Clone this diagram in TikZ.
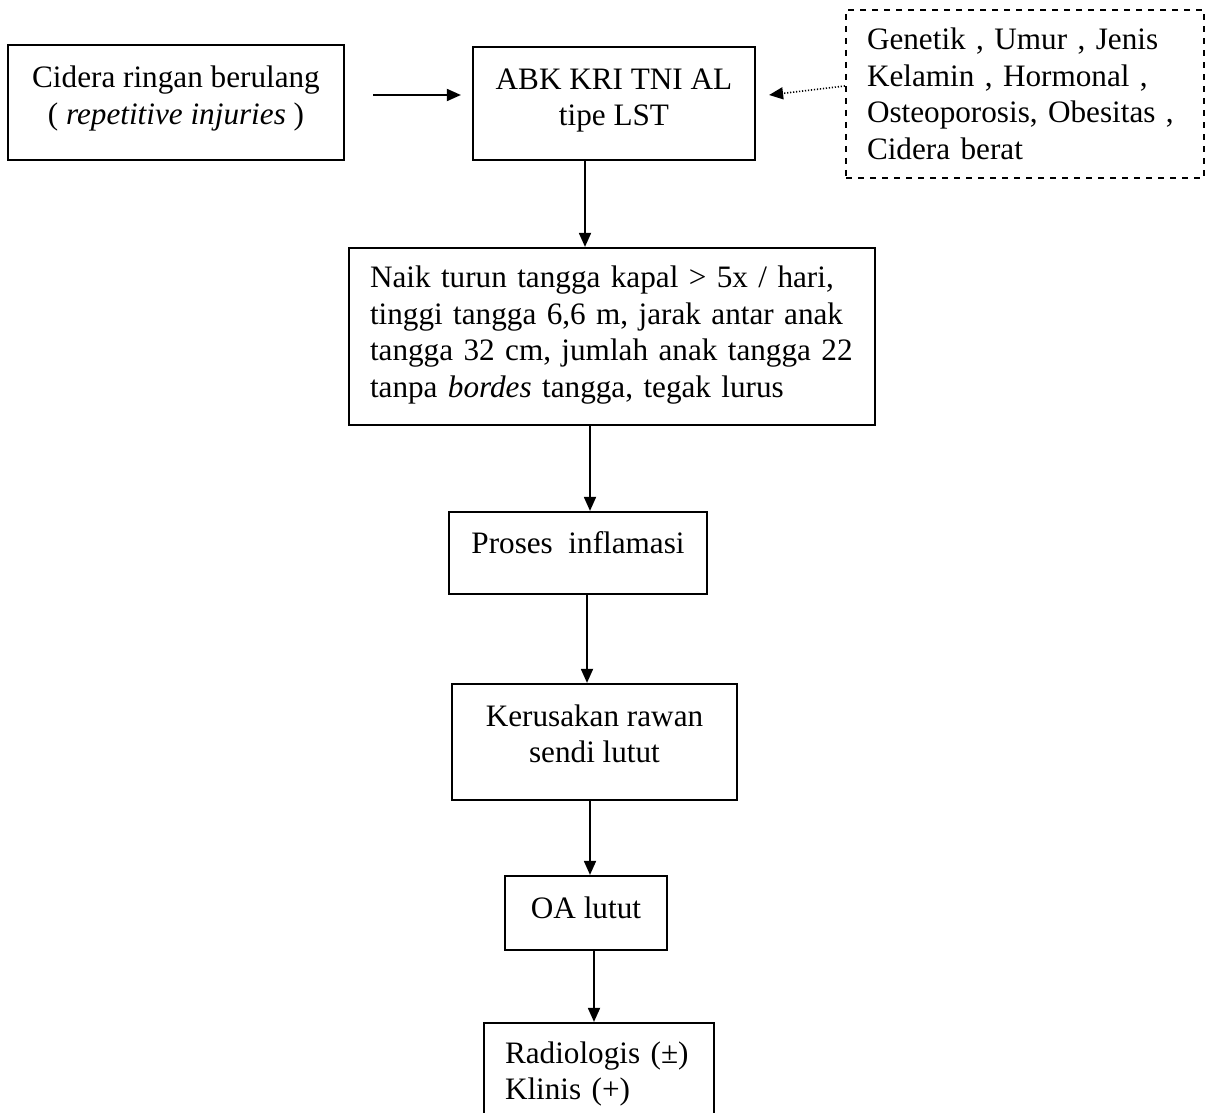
\documentclass[tikz,border=0pt]{standalone}
\usepackage{fontspec}
\setmainfont{Liberation Serif}
\usetikzlibrary{arrows.meta,calc}
\newcommand{\mydepth}[1]{\rule[-#1]{0pt}{0pt}}
\begin{document}
\begin{tikzpicture}[x=0.5pt,y=-0.5pt,
  every node/.style={font=\fontsize{15.6}{18.25}\selectfont},
  box/.style={draw,line width=1.1pt,rectangle,inner sep=0pt,align=center},
  lbox/.style={draw,line width=1.1pt,rectangle,inner xsep=10.5pt,inner ysep=0pt,align=left},
  arr/.style={line width=0.9pt,-{Triangle[length=7pt,width=6pt]}},
  darr/.style={line width=0.8pt,dash pattern=on 0.6pt off 0.9pt,-{Triangle[length=7pt,width=6pt]}}]
\useasboundingbox (0,0) rectangle (1207,1113);
\node[box,minimum width=168pt,minimum height=57.5pt] (b1) at (176,102.5)
  {Cidera ringan berulang\\( \textit{repetitive injuries} )\mydepth{7.5pt}};
\node[box,minimum width=141pt,minimum height=56.5pt] (b2) at (614,103.5)
  {ABK KRI TNI AL\\tipe LST\mydepth{6.5pt}};
\node[lbox,dashed,text width=158pt,minimum height=84pt] (g) at (1025,94)
  {\mbox{Genetik , Umur , Jenis}\\\mbox{Kelamin , Hormonal ,}\\\mbox{Osteoporosis, Obesitas ,}\\\mbox{Cidera berat}};
\node[lbox,text width=242pt,minimum height=88.5pt] (b3) at (612,336.5)
  {\mbox{Naik turun tangga kapal > 5x / hari,}\\\mbox{tinggi tangga 6,6 m, jarak antar anak}\\\mbox{tangga 32 cm, jumlah anak tangga 22}\\\mbox{tanpa \textit{bordes} tangga, tegak lurus}\mydepth{5pt}};
\node[box,minimum width=129pt,minimum height=41pt] (b4) at (578,553)
  {Proses~~inflamasi\mydepth{10pt}};
\node[box,minimum width=142.5pt,minimum height=58pt] (b5) at (594.5,742)
  {Kerusakan rawan\\sendi lutut\mydepth{8.5pt}};
\node[box,minimum width=81pt,minimum height=37pt] (b6) at (586,913)
  {OA lutut\mydepth{5pt}};
\node[lbox,text width=94pt,minimum height=51pt] (b7) at (599,1074)
  {\mbox{Radiologis (±)}\\\mbox{Klinis (+)}};
\draw[arr] ([shift={(28,-7.5)}]b1.east) -- ([shift={(-11,-8.5)}]b2.west);
\draw[darr] ([yshift=4pt]g.west) -- ([shift={(13,-8.5)}]b2.east);
\draw[arr] ([xshift=-14.5pt]b2.south) -- ([xshift=-14.5pt]b2.south |- b3.north);
\draw[arr] ([xshift=-11pt]b3.south) -- ([xshift=-11pt]b3.south |- b4.north);
\draw[arr] ([xshift=4.5pt]b4.south) -- ([xshift=4.5pt]b4.south |- b5.north);
\draw[arr] ([xshift=-2.25pt]b5.south) -- ([xshift=-2.25pt]b5.south |- b6.north);
\draw[arr] ([xshift=4pt]b6.south) -- ([xshift=4pt]b6.south |- b7.north);
\end{tikzpicture}
\end{document}
